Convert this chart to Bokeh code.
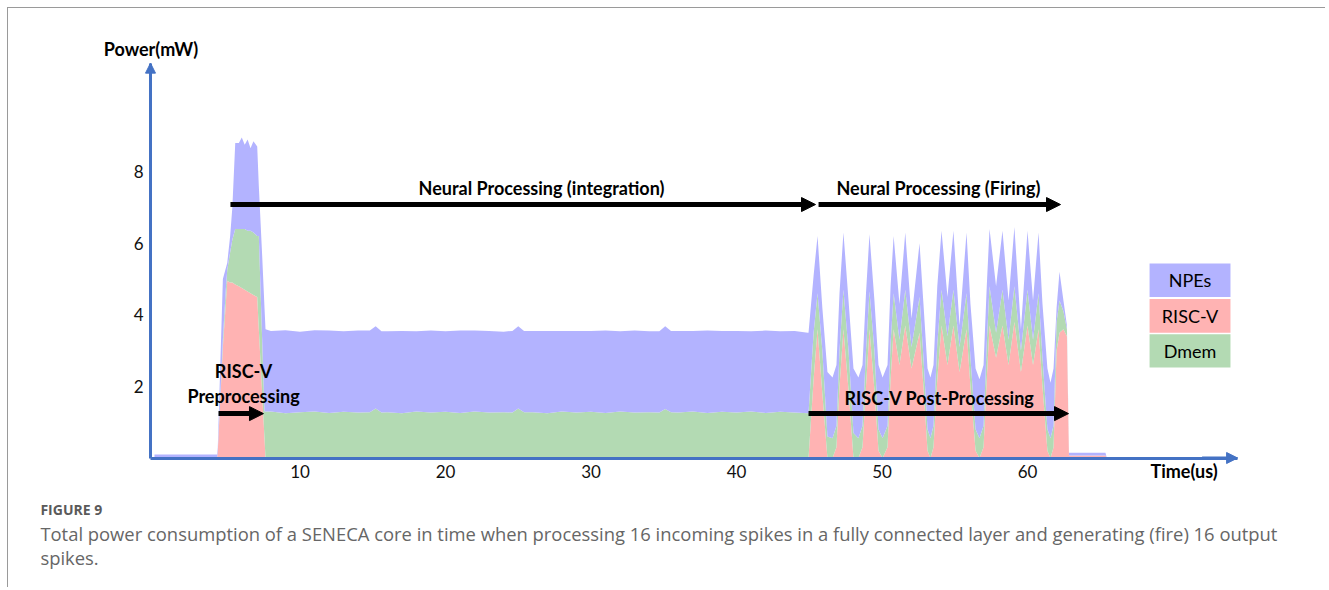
from bokeh.plotting import figure
from bokeh.models import (Range1d, FixedTicker, Arrow, NormalHead, Label,
                          BoxAnnotation, ColumnDataSource, LinearAxis)
from bokeh.embed import file_html
from bokeh.resources import INLINE

# ---------------- data ----------------
time_us = [
    0.0, 4.3, 4.35, 4.7, 4.9, 5.0, 5.2, 5.35, 5.55, 5.8, 6.0, 6.2, 6.4, 6.6, 6.8,
    7.06, 7.17, 7.4, 7.56, 7.63,
    8, 9, 10, 11, 12, 13, 14, 14.8, 15.2, 15.6, 16, 17, 18, 19, 20, 21, 22, 23, 24,
    24.6, 25.0, 25.4, 26, 27, 28, 29, 30, 31, 32, 33, 34, 34.7, 35.1, 35.5, 36, 37,
    38, 39, 40, 41, 42, 43, 44, 44.9,
    44.95, 45.3, 45.57, 45.9, 46.25, 46.6, 46.87, 47.08, 47.35, 47.7, 48.04, 48.38,
    48.66, 48.9, 49.14, 49.48, 49.76, 50.04, 50.38, 50.59, 50.8, 51.2, 51.6, 52.03,
    52.58, 52.85, 53.13, 53.33, 53.54, 53.8, 54.09, 54.5, 54.91, 55.33, 55.81, 56.08,
    56.43, 56.7, 56.98, 57.2, 57.39, 57.84, 58.28, 58.7, 59.1, 59.55, 60.0, 60.38,
    60.76, 61.03, 61.37, 61.58, 61.79, 62.0, 62.2, 62.47, 62.71, 62.85, 65.36, 65.45,
]
risc_v = [
    0, 0, 0.2, 3.1, 4.3, 4.95, 4.9, 4.9, 4.85, 4.8, 4.75, 4.7, 4.65, 4.6, 4.55,
    4.5, 3.6, 1.8, 0.55, 0,
    0, 0, 0, 0, 0, 0, 0, 0, 0, 0, 0, 0, 0, 0, 0, 0, 0, 0, 0,
    0, 0, 0, 0, 0, 0, 0, 0, 0, 0, 0, 0, 0, 0, 0, 0, 0,
    0, 0, 0, 0, 0, 0, 0, 0,
    0, 2.2, 3.6, 1.8, 0, 0, 0.3, 2.0, 3.6, 1.9, 0, 0,
    0.3, 2.0, 3.6, 1.9, 0.2, 0, 0.3, 2.2, 3.6, 2.6, 3.7, 2.5,
    3.5, 2.0, 0.2, 0, 0.3, 2.2, 3.7, 2.6, 3.7, 2.4, 3.6, 2.0,
    0.2, 0, 0.3, 2.2, 3.7, 2.8, 3.7, 2.6, 3.8, 2.4, 3.7, 2.6,
    3.6, 2.0, 0.2, 0, 0.3, 3.0, 3.5, 3.6, 3.4, 0.07, 0.07, 0,
]
dmem = [
    0, 0, 0, 0.2, 0.4, 0.3, 0.85, 1.2, 1.55, 1.6, 1.65, 1.7, 1.7, 1.75, 1.75,
    1.7, 2.6, 1.5, 0.75, 1.3,
    1.3, 1.25, 1.28, 1.3, 1.26, 1.29, 1.27, 1.28, 1.38, 1.27, 1.28, 1.25, 1.3, 1.27,
    1.29, 1.26, 1.3, 1.27, 1.28,
    1.27, 1.38, 1.28, 1.28, 1.25, 1.3, 1.27, 1.29, 1.26, 1.3, 1.27, 1.28, 1.27, 1.37,
    1.28, 1.27, 1.3,
    1.26, 1.29, 1.27, 1.3, 1.26, 1.29, 1.27, 1.25,
    1.25, 1.3, 1.0, 1.2, 0.6, 0.55, 0.6, 1.0, 1.1, 1.1, 0.7, 0.55,
    0.6, 1.0, 1.05, 1.1, 0.6, 0.55, 0.6, 1.0, 1.0, 0.7, 1.0, 0.6,
    1.0, 0.8, 0.6, 0.55, 0.6, 1.0, 1.0, 0.8, 1.0, 0.7, 1.0, 0.8,
    0.6, 0.55, 0.6, 1.0, 1.1, 0.7, 1.0, 0.7, 1.0, 0.6, 1.0, 0.7,
    1.0, 0.8, 0.6, 0.55, 0.6, 0.8, 0.9, 0.5, 0.2, 0, 0, 0,
]
npes = [
    0.1, 0.1, 0.1, 1.7, 0.6, 0.2, 0.45, 0.9, 2.4, 2.4, 2.55, 2.35, 2.55, 2.3, 2.55,
    2.5, 1.4, 2.36, 2.9, 2.3,
    2.25, 2.32, 2.25, 2.27, 2.3, 2.25, 2.29, 2.28, 2.3, 2.27, 2.26, 2.3, 2.24, 2.29,
    2.25, 2.3, 2.26, 2.28, 2.25,
    2.28, 2.3, 2.27, 2.27, 2.3, 2.25, 2.28, 2.26, 2.3, 2.24, 2.29, 2.26, 2.27, 2.31,
    2.27, 2.28, 2.25,
    2.3, 2.26, 2.28, 2.24, 2.3, 2.25, 2.28, 2.25,
    2.25, 1.6, 1.6, 1.2, 1.8, 1.7, 1.7, 1.6, 1.6, 1.4, 1.8, 1.7,
    1.7, 1.6, 1.6, 1.4, 1.8, 1.7, 1.7, 1.6, 1.6, 1.0, 1.6, 0.8,
    1.5, 1.5, 1.7, 1.7, 1.7, 1.6, 1.65, 1.1, 1.65, 0.6, 1.7, 1.5,
    1.7, 1.65, 1.7, 1.6, 1.6, 1.3, 1.65, 1.1, 1.65, 0.6, 1.65, 1.1,
    1.7, 1.5, 1.7, 1.55, 1.6, 0.4, 0.8, 0.3, 0.1, 0.08, 0.08, 0,
]
series_names = ["NPEs", "RISC-V", "Dmem"]
series_colors = {"NPEs": "#B3B3FF", "RISC-V": "#FFB3B3", "Dmem": "#B3DAB3"}
x_ticks = [10, 20, 30, 40, 50, 60]
y_ticks = [2, 4, 6, 8]

# ---------------- figure ----------------
AXIS = "#4472C4"
FONT = "Lato"
# the plot frame covers the whole canvas; axes are drawn at fixed locations
XS, XE = -10.034, 80.55
YS, YE = -3.645, 12.556
AX_X0, AX_X1 = -0.275, 74.44      # extent of time axis
AX_Y1 = 11.03                      # top of power axis

p = figure(width=1318, height=580, x_range=Range1d(XS, XE), y_range=Range1d(YS, YE),
           output_backend="svg", toolbar_location=None,
           x_axis_location=None, y_axis_location=None,
           min_border=0, min_border_left=0, min_border_right=0,
           min_border_top=0, min_border_bottom=0)
p.title.visible = False
p.styles = {"margin-left": "7px", "margin-top": "7px",
            "border-top": "1px solid #9a9a9a", "border-left": "1px solid #9a9a9a"}
p.outline_line_color = None
p.xgrid.visible = False
p.ygrid.visible = False
p.background_fill_color = "white"
p.border_fill_color = "white"

source = ColumnDataSource(dict(t=time_us, risc_v=risc_v, dmem=dmem, npes=npes))
p.varea_stack(stackers=["risc_v", "dmem", "npes"], x="t", source=source,
              color=[series_colors["RISC-V"], series_colors["Dmem"], series_colors["NPEs"]])

xaxis = LinearAxis(fixed_location=0, bounds=(AX_X0, AX_X1), ticker=FixedTicker(ticks=x_ticks))
yaxis = LinearAxis(fixed_location=AX_X0, bounds=(0, AX_Y1), ticker=FixedTicker(ticks=y_ticks))
for ax in (xaxis, yaxis):
    ax.axis_line_color = AXIS
    ax.axis_line_width = 3
    ax.major_tick_line_color = None
    ax.minor_tick_line_color = None
    ax.major_label_text_font = FONT
    ax.major_label_text_font_size = "17px"
    ax.major_label_text_color = "#111111"
xaxis.major_label_standoff = 1
yaxis.major_label_standoff = 1
p.add_layout(xaxis, "below")
p.add_layout(yaxis, "left")

# axis arrow heads
p.add_layout(Arrow(x_start=AX_X0, y_start=10.0, x_end=AX_X0, y_end=AX_Y1, line_color=AXIS,
                   line_width=3, end=NormalHead(size=10, fill_color=AXIS, line_color=AXIS)))
p.add_layout(Arrow(x_start=72.0, y_start=0.0, x_end=AX_X1, y_end=0.0, line_color=AXIS,
                   line_width=3, end=NormalHead(size=11, fill_color=AXIS, line_color=AXIS)))

# phase arrows
def black_arrow(xs, xe, y):
    p.add_layout(Arrow(x_start=xs, y_start=y, x_end=xe, y_end=y, line_color="black",
                       line_width=5, end=NormalHead(size=14, fill_color="black",
                                                    line_color="black")))

black_arrow(5.22, 45.43, 7.08)
black_arrow(45.64, 62.27, 7.08)
black_arrow(4.40, 7.49, 1.24)
black_arrow(44.95, 62.82, 1.24)

def label(x, y, text, size="18px", style="bold", align="center", color="black", font=FONT):
    p.add_layout(Label(x=x, y=y, text=text, text_align=align, text_baseline="middle",
                       text_font=font, text_font_size=size, text_font_style=style,
                       text_color=color))

label(26.6, 7.53, "Neural Processing (integration)")
label(53.88, 7.53, "Neural Processing (Firing)")
label(6.12, 2.42, "RISC-V")
label(6.12, 1.72, "Preprocessing")
label(53.95, 1.69, "RISC-V Post-Processing")
label(-0.24, 11.42, "Power(mW)")
label(70.76, -0.35, "Time(us)")

# legend boxes
legend_tops = [5.43, 4.44, 3.46]
legend_bottoms = [4.50, 3.50, 2.53]
for name, top, bottom in zip(series_names, legend_tops, legend_bottoms):
    p.add_layout(BoxAnnotation(left=68.39, right=73.95, bottom=bottom, top=top,
                               fill_color=series_colors[name], fill_alpha=1.0,
                               line_color=None))
    label(71.17, (top + bottom) / 2, name, size="18px", style="normal")

# caption
CAP = "Open Sans"
label(-7.84, -1.44, "FIGURE 9", size="14px", style="bold", align="left", color="#5a5a5a", font=CAP)
label(-7.84, -2.11, "Total power consumption of a SENECA core in time when processing 16 incoming "
      "spikes in a fully connected layer and generating (fire) 16 output",
      size="18.4px", style="normal", align="left", color="#666666", font=CAP)
label(-7.84, -2.78, "spikes.", size="18.4px", style="normal", align="left", color="#666666", font=CAP)

open("out.html", "w").write(file_html(p, INLINE))
